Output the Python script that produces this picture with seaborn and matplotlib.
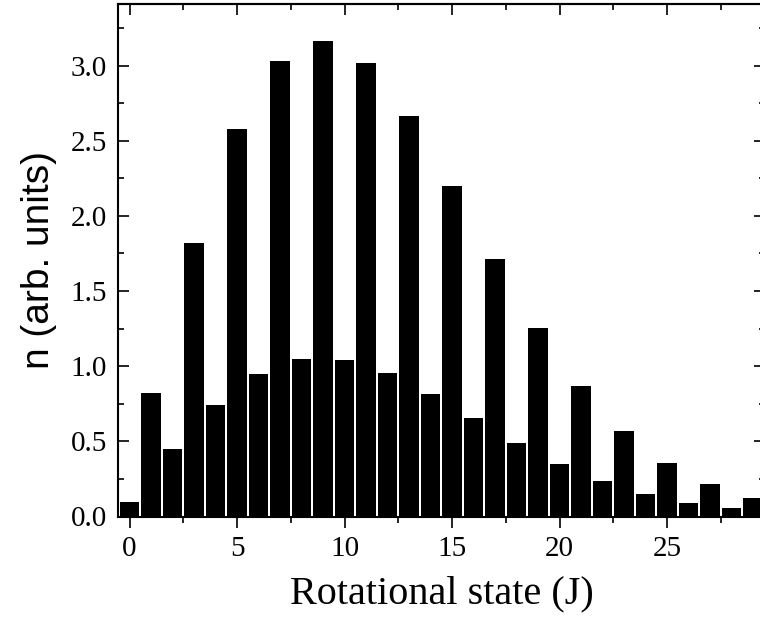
import numpy as np
import pandas as pd
import matplotlib
matplotlib.use("Agg")
import matplotlib.pyplot as plt
from matplotlib.ticker import MultipleLocator
import seaborn as sns

# rotational state populations
J = list(range(30))
n = [0.095, 0.825, 0.449, 1.818, 0.745, 2.578, 0.951, 3.029, 1.047, 3.164,
     1.040, 3.020, 0.958, 2.664, 0.813, 2.202, 0.653, 1.711, 0.491, 1.251,
     0.351, 0.867, 0.238, 0.571, 0.153, 0.358, 0.093, 0.213, 0.058, 0.120]

df = pd.DataFrame({"J": J, "n": n})

sns.set_style("ticks")
plt.rcParams["font.family"] = ["Liberation Serif", "DejaVu Serif"]
for k in ["axes.edgecolor", "xtick.color", "ytick.color", "text.color",
          "axes.labelcolor"]:
    plt.rcParams[k] = "black"

fig = plt.figure(figsize=(7.6, 6.29), dpi=100)
ax = fig.add_axes([118 / 760, 112.5 / 629, 647 / 760, 512.5 / 629])

sns.barplot(data=df, x="J", y="n", color="black", saturation=1,
            width=0.9, native_scale=True, linewidth=0, ax=ax)

ax.set_xlim(-0.54, 29.55)
ax.set_ylim(0, 3.41)
ax.xaxis.set_major_locator(MultipleLocator(5))
ax.xaxis.set_minor_locator(MultipleLocator(2.5))
ax.yaxis.set_major_locator(MultipleLocator(0.5))
ax.yaxis.set_minor_locator(MultipleLocator(0.25))
ax.yaxis.set_major_formatter(matplotlib.ticker.FormatStrFormatter("%.1f"))

for s in ax.spines.values():
    s.set_linewidth(1.5)
    s.set_color("black")
    s.set_visible(True)

ax.tick_params(axis="x", which="both", direction="out", bottom=True, top=False,
               labelsize=21, pad=6)
ax.tick_params(axis="y", which="both", direction="in", left=True, right=True,
               labelsize=21, pad=8)
ax.tick_params(which="major", length=8, width=1.2, color="black")
ax.tick_params(which="minor", length=4.5, width=1.2, color="black")

# inward ticks along the top edge
top = ax.secondary_xaxis("top")
top.xaxis.set_major_locator(MultipleLocator(5))
top.xaxis.set_minor_locator(MultipleLocator(2.5))
top.tick_params(which="both", direction="in", labeltop=False, width=1.2, color="black")
top.tick_params(which="major", length=8)
top.tick_params(which="minor", length=4.5)
top.spines["top"].set_linewidth(1.5)
top.spines["top"].set_color("black")

ax.set_xlabel("Rotational state (J)", fontsize=29, labelpad=10)
ax.set_ylabel("n (arb. units)", fontsize=28, family=["Liberation Sans", "DejaVu Sans"],
              labelpad=10)

fig.savefig("out.png", dpi=100)
